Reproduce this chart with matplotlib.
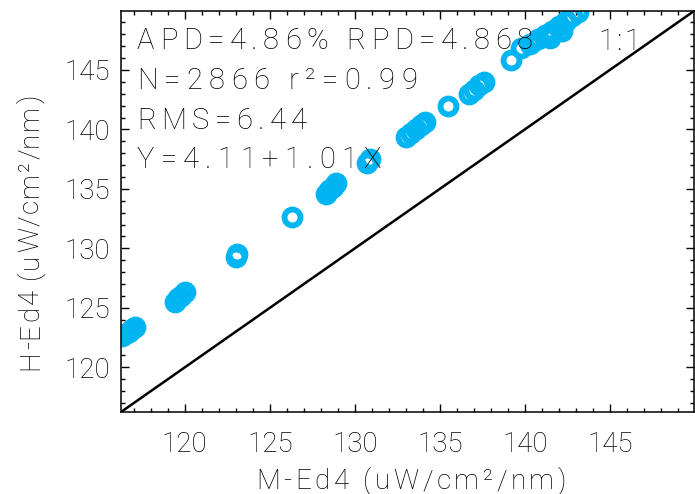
import numpy as np
import matplotlib
matplotlib.use("Agg")
import matplotlib.pyplot as plt
from matplotlib.ticker import MultipleLocator
from matplotlib.transforms import IdentityTransform
from matplotlib.textpath import TextToPath
from matplotlib.font_manager import FontProperties

# Matchup pairs: M-Ed4 (x) against H-Ed4 (y), uW/cm^2/nm
m_ed4 = [116.3, 116.5, 116.7, 116.9, 117.1,
         119.4, 119.6, 119.8, 120.0,
         123.0, 123.1,
         126.3,
         128.3, 128.5, 128.7, 128.9,
         130.7, 130.9,
         133.0, 133.3, 133.6, 133.9, 134.1,
         135.5,
         136.7, 137.0, 137.3, 137.6,
         139.2,
         139.8, 140.3,
         140.8, 141.2, 141.5, 141.6, 142.0, 142.2, 142.4, 142.8, 143.1]
h_ed4 = [122.6, 122.8, 123.0, 123.2, 123.4,
         125.5, 125.8, 126.0, 126.3,
         129.3, 129.5,
         132.6,
         134.6, 134.9, 135.2, 135.5,
         137.2, 137.5,
         139.4, 139.7, 140.0, 140.4, 140.6,
         142.0,
         143.0, 143.3, 143.7, 144.0,
         145.8,
         146.8, 147.2,
         147.6, 147.9, 147.7, 148.3, 148.7, 148.3, 149.1, 149.5, 149.9]

axis_range = (116.25, 149.95)

stats_lines = ["APD=4.86% RPD=4.868",
               "N=2866 r\u00b2=0.99",
               "RMS=6.44",
               "Y=4.11+1.01X"]
x_title = "M-Ed4 (uW/cm\u00b2/nm)"
y_title = "H-Ed4 (uW/cm\u00b2/nm)"

FONT = ["Roboto", "DejaVu Sans"]
plt.rcParams["font.family"] = FONT
plt.rcParams["font.weight"] = "light"

DPI = 100
_ttp = TextToPath()


def tracked_text(fig, x, y, s, span, size, vertical=False):
    """Draw s glyph by glyph (display pixels) so it stretches over span px."""
    fp = FontProperties(family=FONT, weight="light", size=size)
    widths = [_ttp.get_text_width_height_descent(ch, fp, ismath=False)[0]
              * DPI / 72.0 for ch in s]
    extra = (span - sum(widths)) / max(len(s) - 1, 1)
    pos = 0.0
    for ch, w in zip(s, widths):
        if ch != " ":
            px, py = (x, y + pos) if vertical else (x + pos, y)
            fig.text(px, py, ch, transform=IdentityTransform(),
                     fontproperties=fp, ha="left", va="baseline",
                     rotation=90 if vertical else 0, rotation_mode="anchor",
                     zorder=4)
        pos += w + extra


fig = plt.figure(figsize=(6.95, 4.94), dpi=DPI)
ax = fig.add_axes([0.1741, 0.166, 0.8245, 0.8117])

ax.plot(m_ed4, h_ed4, linestyle="none", marker="o", markersize=11.5,
        markerfacecolor="none", markeredgecolor="#00b5f2",
        markeredgewidth=4.2, zorder=2)

# 1:1 reference line
ax.plot(axis_range, axis_range, color="black", linewidth=1.8, zorder=3)

ax.set_xlim(*axis_range)
ax.set_ylim(*axis_range)

for axis in (ax.xaxis, ax.yaxis):
    axis.set_major_locator(MultipleLocator(5))
    axis.set_minor_locator(MultipleLocator(1))
ax.tick_params(which="both", direction="in", top=True, right=True,
               color="black", width=1.0, labelsize=20)
ax.tick_params(which="major", length=6)
ax.tick_params(which="minor", length=3)
ax.tick_params(axis="x", which="major", pad=14)
ax.tick_params(axis="y", which="major", pad=8)
for spine in ax.spines.values():
    spine.set_linewidth(1.1)

# axis titles and statistics block, in display pixels from bottom-left
tracked_text(fig, 256, 5, x_title, 310, 20)
tracked_text(fig, 38, 124, y_title, 275, 20, vertical=True)

baselines = [445, 405, 365, 326]
spans = [396, 280, 170, 244]
for line, base, span in zip(stats_lines, baselines, spans):
    tracked_text(fig, 137, base, line, span, 21)
tracked_text(fig, 598, 444, "1:1", 42, 21)

fig.savefig("out.png", dpi=DPI)
